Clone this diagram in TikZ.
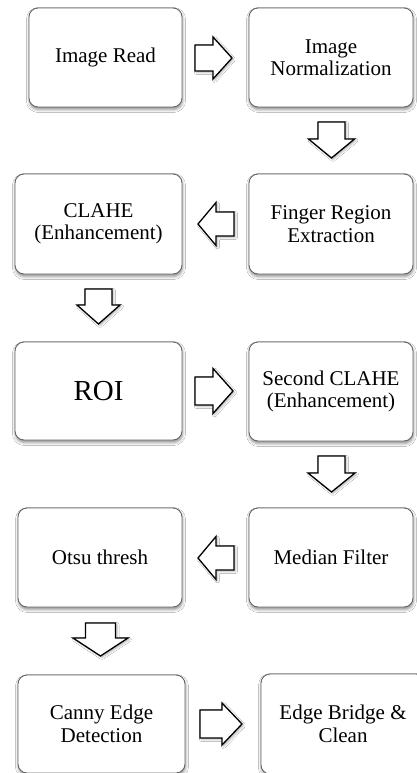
\documentclass[tikz,border=0pt]{standalone}
\usepackage{fontspec}
\setmainfont{Liberation Serif}
\usetikzlibrary{shadows.blur}
% \barrow{name}{x}{y}{rotation}{length}{head length}{head width}{shaft width}
\newcommand\barrow[8]{%
  \coordinate (#1) at (#2,#3);
  \begin{scope}[shift={(#1)}, rotate=#4]
    \draw[blk] ({-#5/2},{#8/2}) -- ({#5/2-#6},{#8/2}) -- ({#5/2-#6},{#7/2})
      -- ({#5/2},0) -- ({#5/2-#6},{-#7/2}) -- ({#5/2-#6},{-#8/2})
      -- ({-#5/2},{-#8/2}) -- cycle;
  \end{scope}}
\begin{document}
\begin{tikzpicture}[x=1pt,y=1pt,
  stepbox/.style={draw=black!60, line width=0.9pt, fill=white, rounded corners=9pt,
    inner sep=2pt, align=center, text=black,
    font=\fontsize{21}{22.5}\selectfont,
    blur shadow={shadow xshift=0.5pt, shadow yshift=-2.5pt, shadow blur radius=3pt, shadow opacity=45}},
  blk/.style={draw=black, line width=1.3pt, fill=white, line join=miter,
    blur shadow={shadow xshift=1.5pt, shadow yshift=-1.5pt, shadow blur radius=2pt, shadow opacity=30}},
  ]
\useasboundingbox (0,0) rectangle (417,-773);
\clip (0,0) rectangle (417,-773);
\fill[white] (0,0) rectangle (417,-773);

% boxes
\node[stepbox, minimum width=153pt, minimum height=99pt] (b1) at (105.5,-57.5) {Image Read};
\node[stepbox, minimum width=164pt, minimum height=99pt] (b2) at (331,-57.5) {Image\\Normalization};
\node[stepbox, minimum width=164pt, minimum height=100pt] (b3) at (331,-224) {Finger Region\\Extraction};
\node[stepbox, minimum width=167pt, minimum height=100pt] (b4) at (98.5,-224) {CLAHE\\(Enhancement)};
\node[stepbox, minimum width=167pt, minimum height=98pt, font=\fontsize{29}{31}\selectfont] (b5) at (98.5,-391) {ROI};
\node[stepbox, minimum width=164pt, minimum height=99pt] (b6) at (331,-391.5) {Second CLAHE\\(Enhancement)};
\node[stepbox, minimum width=164pt, minimum height=99pt] (b7) at (331,-557.5) {Median Filter};
\node[stepbox, minimum width=164pt, minimum height=99pt] (b8) at (100,-557.5) {Otsu thresh};
\node[stepbox, minimum width=167pt, minimum height=98pt] (b9) at (101.5,-724) {Canny Edge\\Detection};
\node[stepbox, minimum width=164pt, minimum height=100pt] (b10) at (343,-724) {Edge Bridge \&\\Clean};

% block arrows
\barrow{a1}{213.5}{-58}{0}{37}{19}{42}{26}
\barrow{a2}{331.5}{-140}{-90}{36}{19}{46}{27}
\barrow{a3}{216}{-224}{180}{36}{18}{43}{24}
\barrow{a4}{98.5}{-306.5}{-90}{35}{19}{43}{27}
\barrow{a5}{214}{-391}{0}{38}{20}{45}{28}
\barrow{a6}{331.5}{-474}{-90}{36}{19}{47}{27}
\barrow{a7}{216}{-558}{180}{36}{18}{43}{24}
\barrow{a8}{100.5}{-639.5}{-90}{33}{18}{55}{30}
\barrow{a9}{221}{-724}{0}{42}{20}{42}{28}
\end{tikzpicture}
\end{document}
